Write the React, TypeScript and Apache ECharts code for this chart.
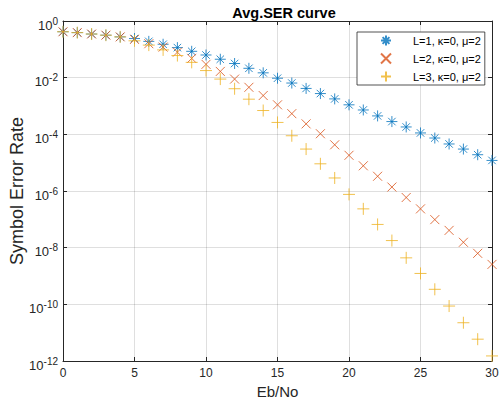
import React, { useEffect, useRef } from "react";
import * as echarts from "echarts";

const ebNo = [0, 1, 2, 3, 4, 5, 6, 7, 8, 9, 10, 11, 12, 13, 14, 15, 16, 17, 18, 19, 20, 21, 22, 23, 24, 25, 26, 27, 28, 29, 30];
const seriesNames = ["L=1, κ=0, μ=2", "L=2, κ=0, μ=2", "L=3, κ=0, μ=2"];
const serL1 = [0.417, 0.389, 0.347, 0.316, 0.275, 0.24, 0.191, 0.151, 0.115, 0.0851, 0.0631, 0.0447, 0.0316, 0.0214, 0.0148, 0.00955, 0.00646, 0.00417, 0.00275, 0.00178, 0.0011, 7.24e-4, 4.47e-4, 2.82e-4, 1.82e-4, 1.12e-4, 7.41e-5, 4.57e-5, 3.02e-5, 1.91e-5, 1.2e-5];
const serL2 = [0.417, 0.389, 0.347, 0.316, 0.275, 0.224, 0.158, 0.12, 0.0794, 0.0479, 0.0295, 0.0166, 0.00891, 0.00457, 0.00234, 0.0011, 5.37e-4, 2.34e-4, 1.05e-4, 4.27e-5, 1.82e-5, 7.76e-6, 3.31e-6, 1.38e-6, 5.89e-7, 2.34e-7, 9.77e-8, 4.07e-8, 1.55e-8, 6.31e-9, 2.57e-9];
const serL3 = [0.417, 0.389, 0.347, 0.316, 0.275, 0.2, 0.141, 0.0955, 0.0603, 0.0347, 0.0178, 0.00891, 0.00407, 0.00174, 6.92e-4, 2.63e-4, 8.91e-5, 3.02e-5, 9.12e-6, 2.88e-6, 7.59e-7, 2.34e-7, 6.61e-8, 1.78e-8, 4.37e-9, 1.23e-9, 3.39e-10, 8.71e-11, 2.24e-11, 5.89e-12, 1.51e-12];
const xTicks = { min: 0, max: 30, interval: 5 };
const yTicks = { min: 1e-12, max: 1, decadeStep: 2 };

const colors = ["#0072BD", "#D95319", "#EDB120"];
const symbols = [
  "path://M5,0L5,10M0,5L10,5M1.6,1.6L8.4,8.4M1.6,8.4L8.4,1.6",
  "path://M0,0L10,10M0,10L10,0",
  "path://M5,0L5,10M0,5L10,5",
];
const sizes = [11, 9, 12];

export default function App() {
  const ref = useRef<HTMLDivElement>(null);
  useEffect(() => {
    if (!ref.current) return;
    const chart = echarts.init(ref.current, undefined, { renderer: "svg" });
    const axisColor = "#262626";
    const font = "'Liberation Sans', Arial, Helvetica, sans-serif";
    const gridLine = { show: true, lineStyle: { color: "rgba(38,38,38,0.15)", width: 1 } };
    const dataSets = [serL1, serL2, serL3];
    chart.setOption({
      animation: false,
      backgroundColor: "#ffffff",
      textStyle: { fontFamily: font },
      title: {
        text: "Avg.SER curve",
        left: 279,
        textAlign: "center",
        top: 0,
        textStyle: { fontSize: 14.5, fontWeight: "bold", color: "#000", fontFamily: font },
      },
      grid: { left: 63, right: 7, top: 21, bottom: 49, containLabel: false, outerBoundsMode: "none" },
      legend: {
        data: seriesNames,
        orient: "vertical",
        left: 357,
        top: 32,
        itemWidth: 10,
        itemHeight: 10,
        itemGap: 5,
        padding: [2, 4, 2, 23],
        borderColor: axisColor,
        borderWidth: 0.8,
        borderRadius: 0,
        backgroundColor: "#ffffff",
        textStyle: { fontSize: 11, lineHeight: 13, color: "#000", fontFamily: font, padding: [0, 0, 0, 17] },
      },
      xAxis: [
        {
          type: "value",
          min: xTicks.min,
          max: xTicks.max,
          interval: xTicks.interval,
          name: "Eb/No",
          nameLocation: "middle",
          nameGap: 23,
          nameMoveOverlap: false,
          nameTextStyle: { fontSize: 15, color: axisColor, fontFamily: font },
          axisLine: { show: true, onZero: false, lineStyle: { color: axisColor, width: 1 } },
          axisTick: { show: true, inside: true, length: 4, lineStyle: { color: axisColor } },
          axisLabel: { fontSize: 12, color: axisColor, margin: 6, fontFamily: font },
          splitLine: gridLine,
        },
        {
          type: "value",
          position: "top",
          min: xTicks.min,
          max: xTicks.max,
          interval: xTicks.interval,
          axisLine: { show: true, onZero: false, lineStyle: { color: axisColor, width: 1 } },
          axisTick: { show: true, inside: true, length: 4, lineStyle: { color: axisColor } },
          axisLabel: { show: false },
          splitLine: { show: false },
        },
      ],
      yAxis: [
        {
          type: "log",
          logBase: 10,
          min: yTicks.min,
          max: yTicks.max,
          interval: yTicks.decadeStep,
          name: "Symbol Error Rate",
          nameLocation: "middle",
          nameGap: 37,
          nameMoveOverlap: false,
          nameTextStyle: { fontSize: 18, color: axisColor, fontFamily: font },
          axisLine: { show: true, onZero: false, lineStyle: { color: axisColor, width: 1 } },
          axisTick: { show: true, inside: true, length: 4, lineStyle: { color: axisColor } },
          axisLabel: {
            margin: 5,
            padding: [8, 0, 0, 0],
            formatter: (v: number) => `{base|10}{sup|${Math.round(Math.log10(v))}}`,
            rich: {
              base: { fontSize: 13, color: axisColor, fontFamily: font, verticalAlign: "middle", lineHeight: 18 },
              sup: { fontSize: 10, color: axisColor, fontFamily: font, verticalAlign: "top", lineHeight: 10 },
            },
          },
          splitLine: gridLine,
          minorTick: { show: false },
        },
        {
          type: "log",
          logBase: 10,
          position: "right",
          min: yTicks.min,
          max: yTicks.max,
          interval: yTicks.decadeStep,
          axisLine: { show: true, onZero: false, lineStyle: { color: axisColor, width: 1 } },
          axisTick: { show: true, inside: true, length: 4, lineStyle: { color: axisColor } },
          axisLabel: { show: false },
          splitLine: { show: false },
        },
      ],
      series: dataSets.map((d, i) => ({
        name: seriesNames[i],
        type: "scatter",
        xAxisIndex: 0,
        yAxisIndex: 0,
        symbol: symbols[i],
        symbolSize: sizes[i],
        itemStyle: { color: "rgba(0,0,0,0)", borderColor: colors[i], borderWidth: 1 },
        emphasis: { disabled: true },
        data: ebNo.map((x, k) => [x, d[k]]),
      })),
    });
    return () => chart.dispose();
  }, []);
  return <div ref={ref} style={{ position: "absolute", left: 0, top: 0, width: 499, height: 410 }} />;
}
